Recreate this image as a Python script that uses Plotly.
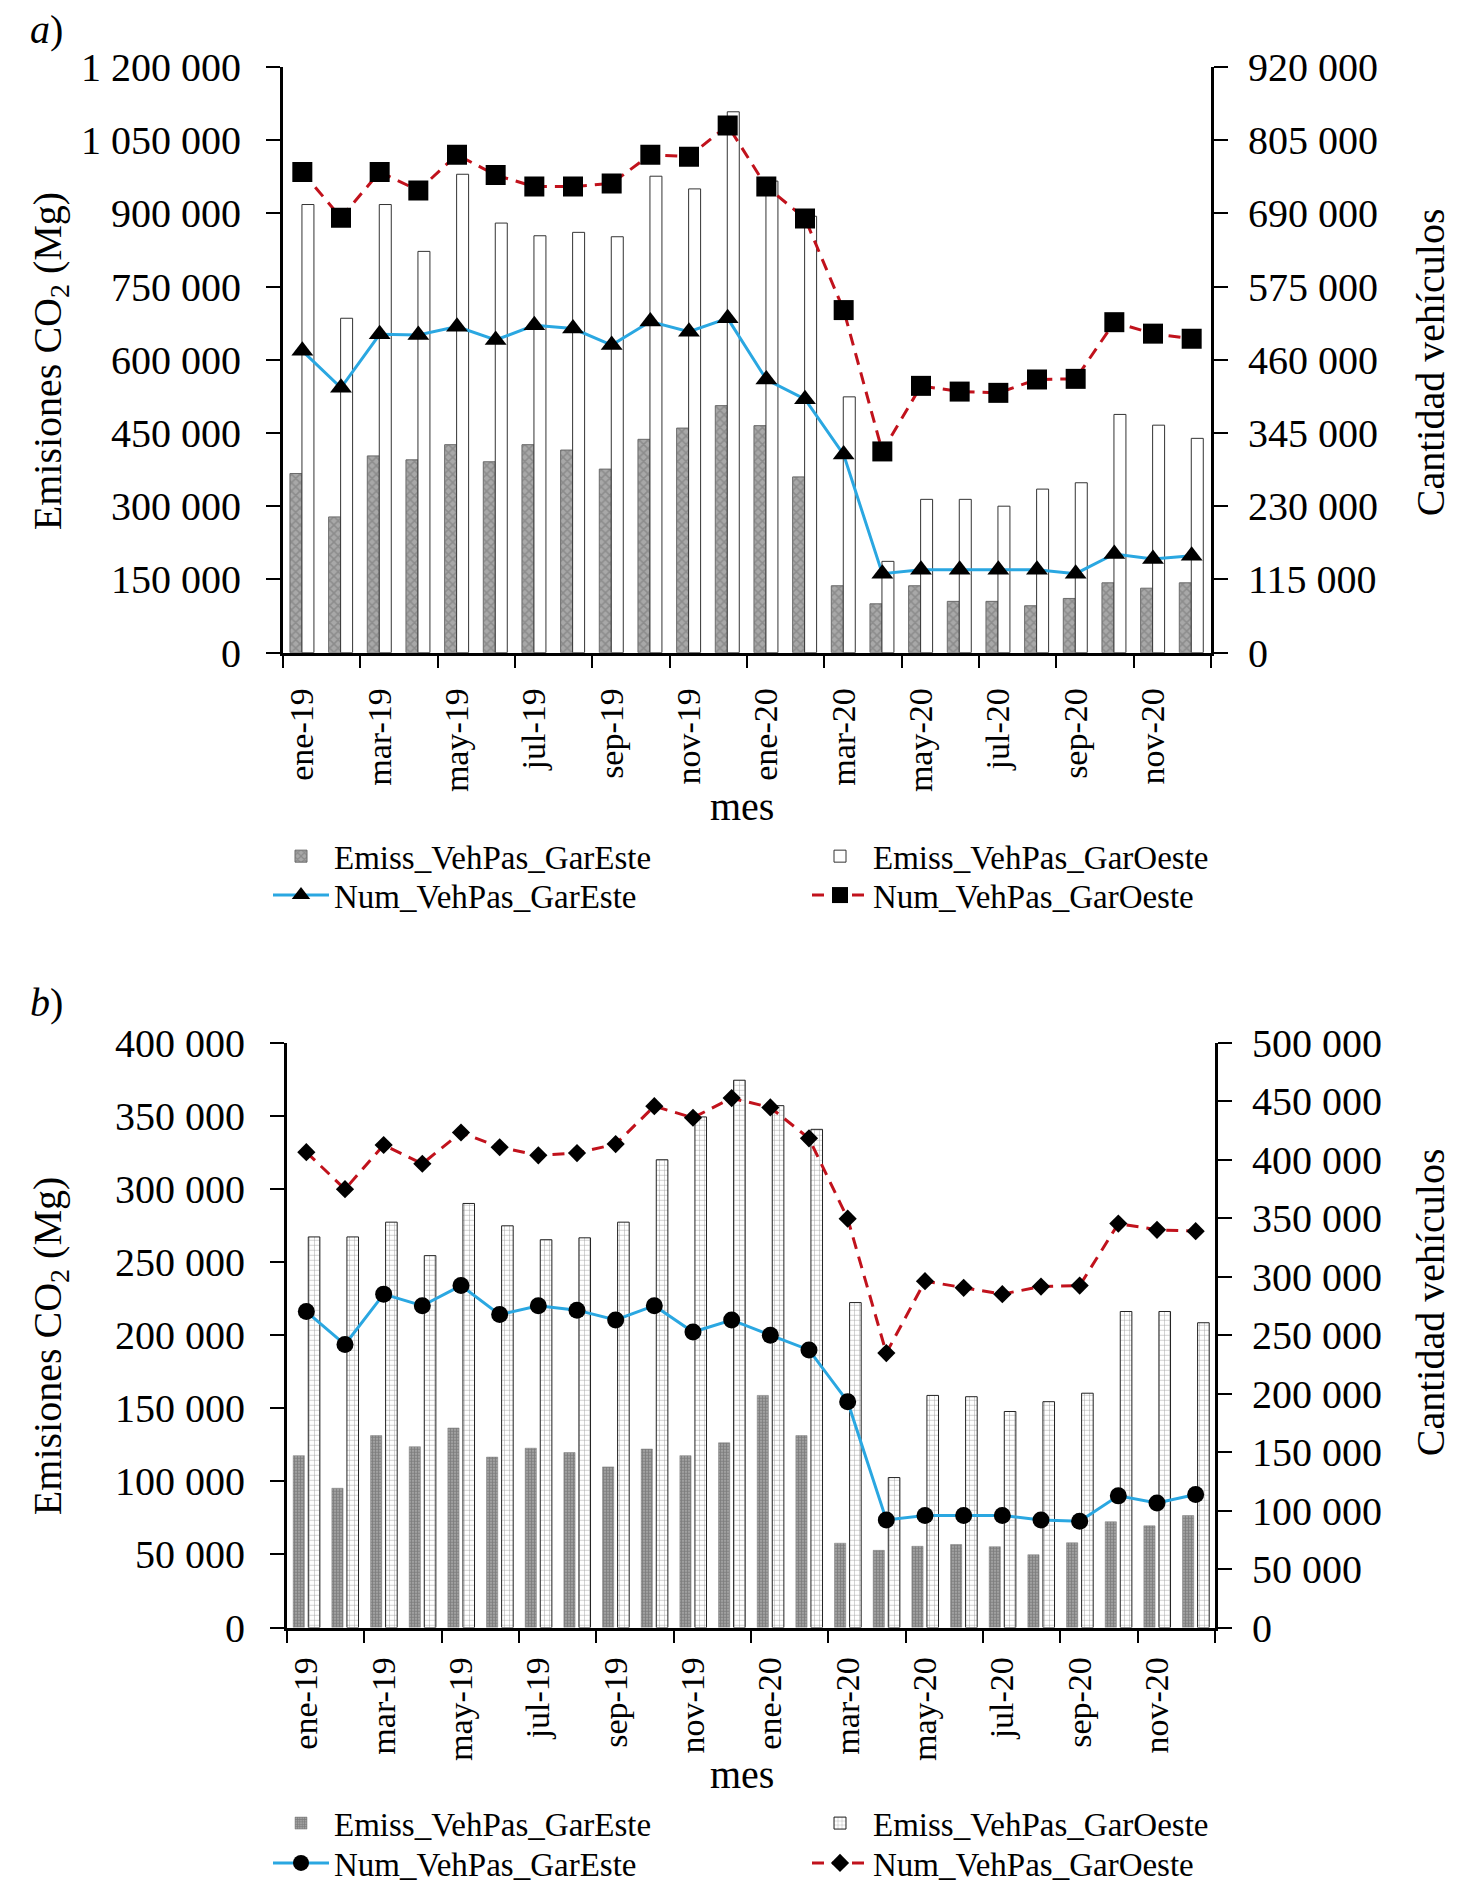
import plotly.graph_objects as go

months = ['ene-19', 'feb-19', 'mar-19', 'abr-19', 'may-19', 'jun-19', 'jul-19', 'ago-19',
          'sep-19', 'oct-19', 'nov-19', 'dic-19', 'ene-20', 'feb-20', 'mar-20', 'abr-20',
          'may-20', 'jun-20', 'jul-20', 'ago-20', 'sep-20', 'oct-20', 'nov-20', 'dic-20']
shown_months = months[::2]

# Panel a) (emissions on left axis, vehicle counts on right axis)
a_emiss_este = [367000, 278000, 403000, 395000, 426000, 391000, 426000, 415000, 376000, 437000, 460000, 506000,
                465000, 360000, 137000, 100000, 137000, 105000, 105000, 96000, 111000, 143000, 132000, 143000]
a_emiss_oeste = [918000, 685000, 918000, 822000, 980000, 880000, 854000, 861000, 852000, 976000, 950000, 1108000,
                 966000, 894000, 524000, 187000, 314000, 314000, 300000, 335000, 348000, 488000, 466000, 439000]
a_num_este = [474000, 416000, 500000, 499000, 512000, 491000, 514000, 509000, 483000, 520000, 504000, 525000,
              429000, 398000, 311000, 124000, 130000, 130000, 130000, 130000, 124000, 155000, 147000, 152000]
a_num_oeste = [755000, 683000, 755000, 726000, 782000, 750000, 732000, 732000, 737000, 782000, 779000, 828000,
               732000, 682000, 538000, 316000, 419000, 410000, 408000, 429000, 430000, 519000, 501000, 493000]

# Panel b)
b_emiss_este = [117600, 95300, 131300, 123700, 136500, 116600, 122700, 119700, 109900, 122100, 117600, 126400,
                158800, 131300, 57700, 52800, 55600, 56800, 55300, 49800, 58000, 72400, 69600, 76600]
b_emiss_oeste = [267200, 267200, 277300, 254400, 290100, 274800, 265300, 266600, 277300, 320000, 349300, 374400,
                 357000, 340800, 222300, 102600, 158800, 157900, 147800, 154500, 160300, 216200, 216200, 208500]
b_num_este = [270200, 242000, 285100, 275200, 292400, 267600, 275200, 271400, 263000, 275200, 252700, 263000,
              250000, 237400, 193100, 92000, 95800, 95800, 95800, 92000, 90800, 112600, 106500, 113700]
b_num_oeste = [406500, 374800, 412600, 396600, 423300, 410700, 403800, 405700, 413400, 445800, 435900, 452700,
               444700, 418300, 349600, 234700, 296200, 290500, 285100, 291600, 292400, 345400, 340100, 338900]

names = ['Emiss_VehPas_GarEste', 'Emiss_VehPas_GarOeste', 'Num_VehPas_GarEste', 'Num_VehPas_GarOeste']

PAGE_PAD = 8            # default body margin of the html page
W, H = 1475 - 2 * PAGE_PAD, 1899 - 2 * PAGE_PAD
FONT = 'Liberation Serif'
BLUE = '#2aa7e1'
RED = '#c1121c'

def px_x(v):
    return (v - PAGE_PAD) / W

def px_y(v):
    return 1 - (v - PAGE_PAD) / H

fig = go.Figure()

# ---------- panel a ----------
fig.add_trace(go.Bar(x=months, y=a_emiss_este, name=names[0], xaxis='x', yaxis='y',
                     offset=-0.32, width=0.31,
                     marker=dict(color='#a4a4a4', line=dict(color='#6a6a6a', width=1),
                                 pattern=dict(shape='x', size=6, solidity=0.45, fgcolor='#707070', bgcolor='#a8a8a8')),
                     legend='legend'))
fig.add_trace(go.Bar(x=months, y=a_emiss_oeste, name=names[1], xaxis='x', yaxis='y',
                     offset=-0.01, width=0.31,
                     marker=dict(color='white', line=dict(color='#333333', width=1)),
                     legend='legend2'))
fig.add_trace(go.Scatter(x=[], y=[], xaxis='x3', yaxis='y', showlegend=False, hoverinfo='skip'))
fig.add_trace(go.Scatter(x=months, y=a_num_este, name=names[2], xaxis='x', yaxis='y2', mode='lines+markers',
                         line=dict(color=BLUE, width=3),
                         marker=dict(symbol='triangle-up', size=19, color='black'),
                         legend='legend3'))
fig.add_trace(go.Scatter(x=months, y=a_num_oeste, name=names[3], xaxis='x', yaxis='y2', mode='lines+markers',
                         line=dict(color=RED, width=3, dash='12px,8px'),
                         marker=dict(symbol='square', size=20, color='black'),
                         legend='legend4'))

# ---------- panel b ----------
fig.add_trace(go.Bar(x=months, y=b_emiss_este, name=names[0], xaxis='x2', yaxis='y3',
                     offset=-0.34, width=0.29,
                     marker=dict(color='#8a8a8a', line=dict(color='#7a7a7a', width=0.5),
                                 pattern=dict(shape='+', size=3, solidity=0.45, fgcolor='#555555', bgcolor='#a0a0a0')),
                     legend='legend5'))
fig.add_trace(go.Bar(x=months, y=b_emiss_oeste, name=names[1], xaxis='x2', yaxis='y3',
                     offset=0.05, width=0.30,
                     marker=dict(color='white', line=dict(color='#222222', width=1),
                                 pattern=dict(shape='+', size=5, solidity=0.2, fgcolor='#555555', bgcolor='white')),
                     legend='legend6'))
fig.add_trace(go.Scatter(x=[], y=[], xaxis='x4', yaxis='y3', showlegend=False, hoverinfo='skip'))
fig.add_trace(go.Scatter(x=months, y=b_num_este, name=names[2], xaxis='x2', yaxis='y4', mode='lines+markers',
                         line=dict(color=BLUE, width=3),
                         marker=dict(symbol='circle', size=17, color='black'),
                         legend='legend7'))
fig.add_trace(go.Scatter(x=months, y=b_num_oeste, name=names[3], xaxis='x2', yaxis='y4', mode='lines+markers',
                         line=dict(color=RED, width=3, dash='12px,8px'),
                         marker=dict(symbol='diamond', size=14, color='black'),
                         legend='legend8'))

a_xdom = [px_x(283), px_x(1211)]
b_xdom = [px_x(287), px_x(1215)]
a_dom = [px_y(654), px_y(67)]
b_dom = [px_y(1631), px_y(1045)]
bounds = [i - 0.5 for i in range(0, len(months) + 1, 2)]

def cat_axis(anchor, domain, standoff):
    return dict(domain=domain, anchor=anchor, type='category', categoryorder='array', categoryarray=months,
                range=[-0.5, len(months) - 0.5], tickmode='array', tickvals=shown_months, ticks='',
                tickangle=-90, tickfont=dict(size=34, family=FONT, color='black'),
                showline=True, linewidth=3, linecolor='black', showgrid=False, zeroline=False,
                ticklabelstandoff=standoff, automargin=False)

def tick_axis(over, anchor, domain):
    return dict(domain=domain, overlaying=over, anchor=anchor, type='linear',
                range=[-0.5, len(months) - 0.5], tickmode='array', tickvals=bounds,
                ticks='outside', ticklen=14, tickwidth=2, tickcolor='black', showticklabels=False,
                showline=False, showgrid=False, zeroline=False, automargin=False)

def val_axis(anchor, domain, rng, dtick, side='left', over=None):
    d = dict(anchor=anchor, range=rng, dtick=dtick, tick0=0, tickformat=',',
             ticks='outside', ticklen=14, tickwidth=2, tickcolor='black',
             tickfont=dict(size=40, family=FONT, color='black'),
             showline=True, linewidth=3, linecolor='black', showgrid=False, zeroline=False,
             side=side, ticklabelstandoff=(17 if side == 'left' else 12), automargin=False)
    if over:
        d['overlaying'] = over
    else:
        d['domain'] = domain
    return d

legend_common = dict(font=dict(size=33, family=FONT, color='black'), bgcolor='rgba(0,0,0,0)',
                     xanchor='left', yanchor='middle', itemwidth=56, orientation='v')
col1, col2 = px_x(268), px_x(807)

layout = dict(
    width=W, height=H, margin=dict(l=0, r=0, t=0, b=0),
    paper_bgcolor='white', plot_bgcolor='rgba(0,0,0,0)',
    separators='. ', font=dict(family=FONT, color='black'),
    showlegend=True, barmode='group',
    xaxis=cat_axis('y', a_xdom, 19),
    xaxis3=tick_axis('x', 'y', a_xdom),
    yaxis=val_axis('x', a_dom, [0, 1200000], 150000),
    yaxis2=val_axis('x', None, [0, 920000], 115000, side='right', over='y'),
    xaxis2=cat_axis('y3', b_xdom, 13),
    xaxis4=tick_axis('x2', 'y3', b_xdom),
    yaxis3=val_axis('x2', b_dom, [0, 400000], 50000),
    yaxis4=val_axis('x2', None, [0, 500000], 50000, side='right', over='y3'),
    legend=dict(x=col1, y=px_y(858), **legend_common),
    legend2=dict(x=col2, y=px_y(858), **legend_common),
    legend3=dict(x=col1, y=px_y(897), **legend_common),
    legend4=dict(x=col2, y=px_y(897), **legend_common),
    legend5=dict(x=col1, y=px_y(1827), **legend_common),
    legend6=dict(x=col2, y=px_y(1827), **legend_common),
    legend7=dict(x=col1, y=px_y(1867), **legend_common),
    legend8=dict(x=col2, y=px_y(1867), **legend_common),
)
fig.update_layout(**layout)

def ann(text, x, y, size=40, angle=0):
    fig.add_annotation(text=text, x=px_x(x), y=px_y(y), xref='paper', yref='paper',
                       showarrow=False, textangle=angle, xanchor='center', yanchor='middle',
                       font=dict(size=size, family=FONT, color='black'))

ann('<i>a</i>)', 46, 30)
ann('<i>b</i>)', 46, 1005)
ann('Emisiones CO<sub>2</sub> (Mg)', 50, 362, angle=-90)
ann('Cantidad vehículos', 1430, 363, angle=-90)
ann('mes', 742, 808)
ann('Emisiones CO<sub>2</sub> (Mg)', 50, 1349, angle=-90)
ann('Cantidad vehículos', 1430, 1305, angle=-90)
ann('mes', 742, 1778)

fig.write_html('out.html')
